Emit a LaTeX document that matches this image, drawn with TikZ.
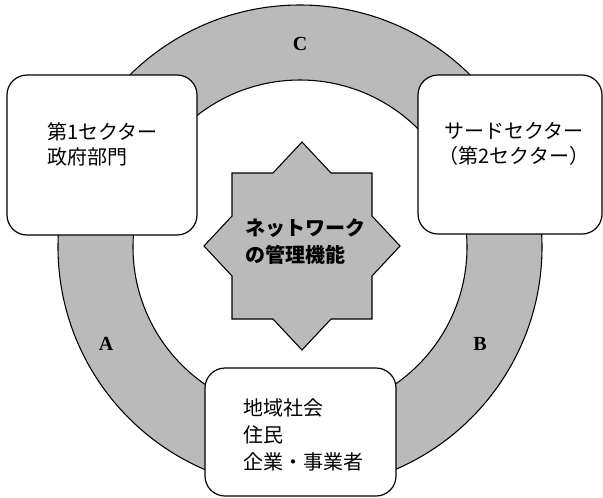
\documentclass[tikz,border=0pt]{standalone}
\usepackage{fontspec}
\setmainfont{Liberation Serif}
\newfontfamily\jp{Noto Sans CJK JP}
\definecolor{ringgray}{RGB}{186,186,186}
\begin{document}
\begin{tikzpicture}[x=0.75pt,y=-0.75pt,
  box/.style={draw=black, fill=white, rounded corners=15pt, line width=0.9pt, inner sep=0pt},
  jptext/.style={font=\jp\fontsize{15}{19}\selectfont, inner sep=0pt, align=left},
  letter/.style={font=\bfseries\fontsize{15}{18}\selectfont, inner sep=0pt}]
\useasboundingbox (0,0) rectangle (603,497);
\clip (0,0) rectangle (603,497);
% ring
\path[fill=ringgray, draw=black, line width=0.8pt, even odd rule]
  (300,247) circle[radius=181.5pt] (300,247) circle[radius=125.25pt];
% star
\draw[fill=ringgray, line width=0.8pt] (302,246) ++(0,-104) -- ++(29,31) -- ++(41,0) -- ++(0,43)
  -- ++(28,30) -- ++(-28,30) -- ++(0,43) -- ++(-41,0) -- ++(-29,31) -- ++(-29,-31)
  -- ++(-41,0) -- ++(0,-43) -- ++(-28,-30) -- ++(28,-30) -- ++(0,-43) -- ++(41,0) -- cycle;
\node[jptext, font=\jp\bfseries\fontsize{15}{20}\selectfont] (star) at (305,241.5) {ネットワーク\\の管理機能};
% boxes
\node[box, minimum width=142.5pt, minimum height=120pt] (lbox) at (102,155) {};
\node[box, minimum width=138pt, minimum height=119.25pt] (rbox) at (510,154.5) {};
\node[box, minimum width=143.25pt, minimum height=96pt] (bbox) at (300.5,432) {};
% box texts
\node[jptext, anchor=west] (ltext) at (47,144.5) {第1セクター\\政府部門};
\node[jptext, align=center] (rtext) at (514,143.5) {サードセクター\\（第2セクター）};
\node[jptext, anchor=west, font=\jp\fontsize{15}{20.25}\selectfont] (btext) at (243,435) {地域社会\\住民\\企業・事業者};
% letters
\node[letter] (C) at (300,44) {C};
\node[letter] (A) at (106,344) {A};
\node[letter] (B) at (480,344) {B};
\end{tikzpicture}
\end{document}
